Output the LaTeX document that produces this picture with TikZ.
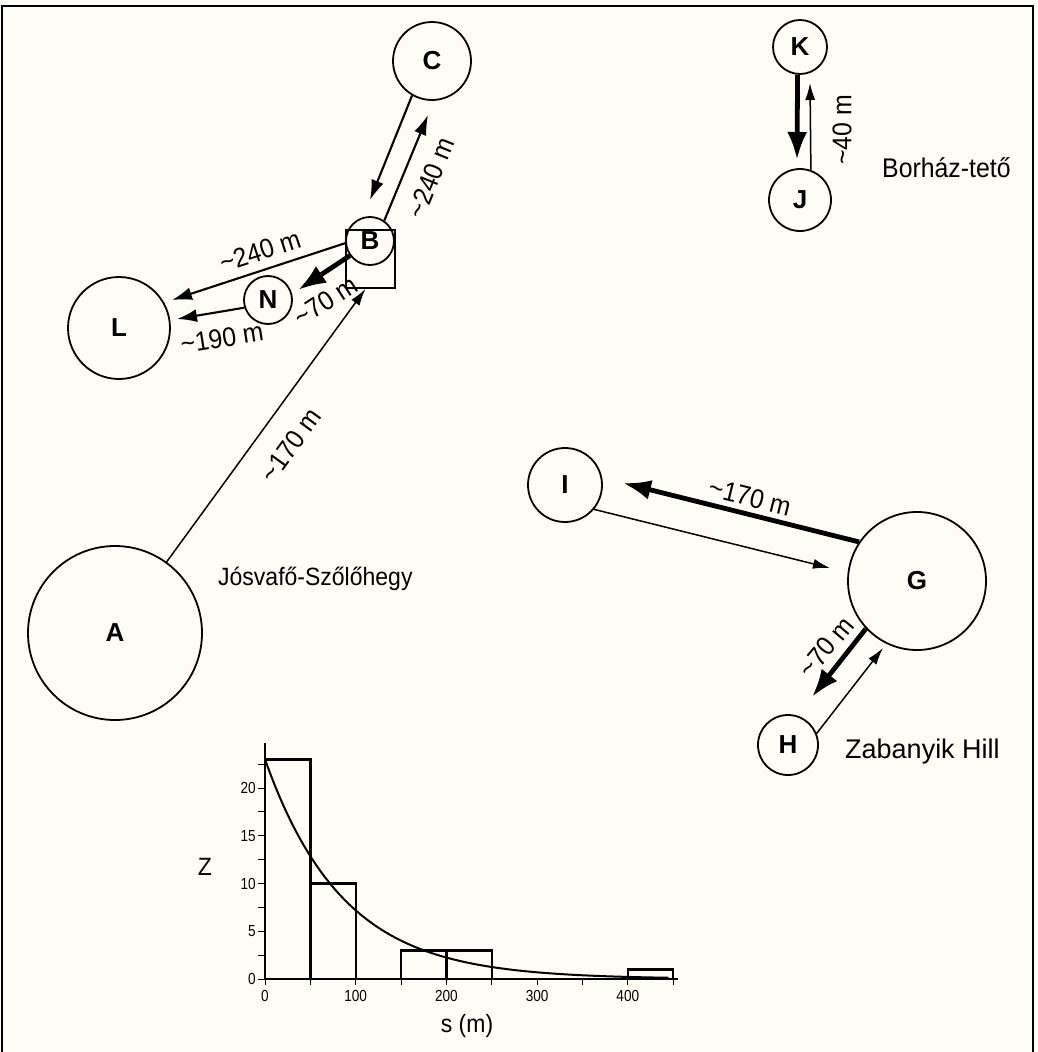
\documentclass[tikz,border=0pt]{standalone}
\usepackage{fontspec}
\setmainfont{Liberation Sans}
\newfontfamily\condfont[FakeStretch=0.92]{Liberation Sans}
\newfontfamily\narrowfont[FakeStretch=0.85]{Liberation Sans}
\usetikzlibrary{arrows.meta,calc}
\definecolor{paper}{RGB}{253,253,245}
\begin{document}
\begin{tikzpicture}[x=1pt,y=-1pt,
  site/.style={circle,draw,line width=1.8pt,inner sep=0pt,font=\fontsize{26}{26}\selectfont\bfseries},
  thinarr/.style={line width=1.5pt,-{Latex[length=17pt,width=10pt]}},
  midarr/.style={line width=2.1pt,-{Latex[length=20pt,width=13pt]}},
  thickarr/.style={line width=4.8pt,-{Latex[length=28pt,width=20pt]}},
  dist/.style={font=\condfont\fontsize{27}{27}\selectfont,inner sep=0pt},
  place/.style={font=\condfont\fontsize{27}{27}\selectfont,inner sep=0pt},
  ticklab/.style={font=\narrowfont\fontsize{16}{16}\selectfont,inner sep=0pt},
  axlab/.style={font=\condfont\fontsize{25}{25}\selectfont,inner sep=0pt},
]
\fill[paper] (0,0) rectangle (1037,1052);
\useasboundingbox (0,0) rectangle (1037,1052);
\draw[line width=1.5pt] (2,1052) -- (2,6) -- (1033,6) -- (1033,1052);

% sites
\node[site,minimum size=78pt] (C) at (432,61) {C};
\node[site,minimum size=54pt] (K) at (800,47) {K};
\node[site,minimum size=62pt] (J) at (800,200) {J};
\node[site,minimum size=48pt] (B) at (370,241) {B};
\node[draw,line width=1.8pt,minimum width=49pt,minimum height=58pt,inner sep=0pt] (Bbox) at (370.5,259) {};
\node[site,minimum size=48pt] (N) at (268,300) {N};
\node[site,minimum size=102pt] (L) at (119,328) {L};
\node[site,minimum size=174pt] (A) at (115,633) {A};
\node[site,minimum size=74pt] (I) at (565,485) {I};
\node[site,minimum size=138pt] (G) at (917,581) {G};
\node[site,minimum size=60pt] (H) at (788,745) {H};

% connectors
\draw[midarr] (C.240) -- ([shift={(0,-41)}]B.center);
\draw[midarr] (B.55) -- ([shift={(-4,54)}]C.center);
\draw[midarr] (B.185) -- ([shift={(53,-28)}]L.center);
\draw[thickarr] (B.216) -- ([shift={(30,-10)}]N.center);
\draw[midarr] (N.198) -- ([shift={(58,-9)}]L.center);
\draw[thinarr] (A.54) -- ([shift={(-5,0)}]Bbox.south);
\draw[thickarr] (G.146) -- ([shift={(58,-2)}]I.center);
\draw[thinarr] (I.320) -- ([shift={(-87,-13)}]G.center);
\draw[thickarr] (G.223) -- ([shift={(24,-48)}]H.center);
\draw[thinarr] (H.22) -- ([shift={(-34,67)}]G.center);
\draw[thickarr] (K.265) -- ([shift={(-3,-40)}]J.center);
\draw[thinarr] (J.70) -- ([shift={(10,36)}]K.center);

% distance labels
\node[dist,rotate=68] (lCB) at (431,178) {\textasciitilde240 m};
\node[dist,rotate=18] (lBL) at (260,251) {\textasciitilde240 m};
\node[dist,rotate=33] (lBN) at (326,301) {\textasciitilde70 m};
\node[dist,rotate=9] (lNL) at (222,338) {\textasciitilde190 m};
\node[dist,rotate=54] (lAB) at (291,445) {\textasciitilde170 m};
\node[dist,rotate=-14] (lGI) at (750,497) {\textasciitilde170 m};
\node[dist,rotate=50] (lGH) at (826,647) {\textasciitilde70 m};
\node[dist,rotate=90] (lKJ) at (842,130) {\textasciitilde40 m};

% place names
\node[place,anchor=base west,font=\condfont\fontsize{25}{25}\selectfont] (jos) at (218,585) {Jósvafő-Szőlőhegy};
\node[place,anchor=base west] (bor) at (882,177) {Borház-tető};
\node[place,anchor=base west,font=\fontsize{27}{27}\selectfont] (zab) at (845,758) {Zabanyik Hill};

% histogram
\begin{scope}[shift={(265,979)},x=0.907pt,y=9.55pt]
  \draw[line width=2.4pt] (0,0) rectangle (50,23);
  \draw[line width=2.4pt] (50,0) rectangle (100,10);
  \draw[line width=2.4pt] (150,0) rectangle (200,3);
  \draw[line width=2.4pt] (200,0) rectangle (250,3);
  \draw[line width=2.4pt] (400,0) rectangle (450,1);
  \draw[line width=1.4pt] (0,24.7) -- (0,0) -- (455,0);
  \foreach \z in {0,2.5,...,22.5} \draw[line width=1pt] (0,\z) -- ++(-7pt,0pt);
  \foreach \s in {0,50,...,450} \draw[line width=1pt] (\s,0) -- ++(0pt,-6pt);
  \foreach \z in {0,5,10,15,20} \node[ticklab,anchor=east] (yl\z) at ([xshift=-9pt]0,\z) {\z};
  \foreach \s in {0,100,200,300,400} \node[ticklab,anchor=north] (xl\s) at ([yshift=-11pt]\s,0) {\s};
  \draw[line width=2pt,domain=0:445,samples=90,smooth] plot (\x,{23*exp(-0.01162*\x)});
\end{scope}
\node[axlab] (zlab) at (205,867) {Z};
\node[axlab] (slab) at (467,1026) {s (m)};
\end{tikzpicture}
\end{document}
